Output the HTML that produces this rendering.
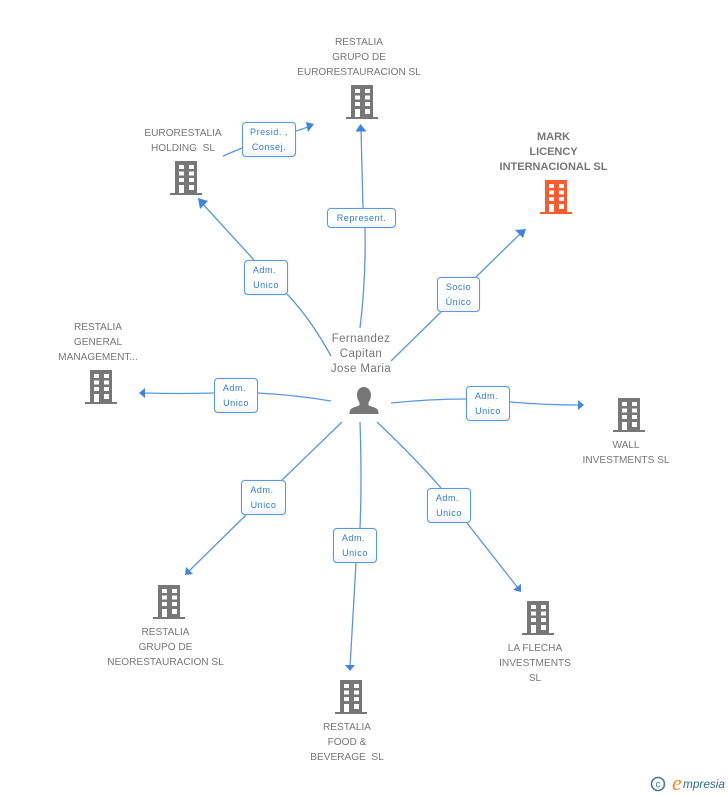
<!DOCTYPE html>
<html><head><meta charset="utf-8">
<style>
html,body{margin:0;padding:0;background:#fff}
#c{position:relative;width:728px;height:795px;overflow:hidden;background:#fff}
svg{position:absolute;left:0;top:0}
.t{position:absolute;transform:translate(-50%,1px);text-align:center;white-space:pre;font:10.1px/15px "Liberation Sans",sans-serif;color:#777}
.b{position:absolute;box-sizing:border-box;border:1.5px solid #5a97e6;border-radius:4px;background:linear-gradient(#fff 70%,#f1f4f9);text-align:center;white-space:pre;font:9px/15px "Liberation Sans",sans-serif;letter-spacing:.55px;color:#2f7be0;padding-top:2px;box-shadow:0 0 1px #a9c8f0}
</style></head><body><div id="c">
<svg width="728" height="795" viewBox="0 0 728 795">
<defs>
<symbol id="bd" viewBox="0 0 32 34" width="32" height="34">
<path fill-rule="evenodd" d="M5 0h22v32h5v2H0v-2h5zM9 4v4h5V4zM19 4v4h5V4zM9 10.500v4h5v-4zM19 10.500v4h5v-4zM9 17v4h5v-4zM19 17v4h5v-4zM9 24v8h5v-8zM19 24v5h5v-5z"/>
</symbol>
</defs>
<g fill="none" stroke="#5a97e6" stroke-width="1.3">
<path d="M223 156L242 148"/><path d="M296 131L308 127"/>
<path d="M361 129Q362 170 363 208"/><path d="M365 228Q366 280 360 328"/>
<path d="M201 202L254 260"/><path d="M287 294Q310 318 331 356"/>
<path d="M476 277L522 232"/><path d="M441 312L391 361"/>
<path d="M143 393Q180 394 214 393"/><path d="M258 393Q295 395 331 401"/>
<path d="M391 403Q430 399 466 399"/><path d="M510 402Q545 405 580 405"/>
<path d="M342 422L282 480"/><path d="M246 515L188 572"/>
<path d="M360 422Q362 480 360 528"/><path d="M356 563L350 667"/>
<path d="M377 422Q415 458 441 488"/><path d="M467 523L518 588"/>
</g>
<g fill="#3f85e4">
<path d="M360.500 124L366.500 131.500L355.500 131.500Z"/>
<path d="M198 198L208 201L200 209Z"/>
<path d="M314 124L306 122L308 132Z"/>
<path d="M526 229L523 238L515 230Z"/>
<path d="M139 393L145 388L145 398Z"/>
<path d="M584 405L578 400L578 410Z"/>
<path d="M185 575L193 574L186 567Z"/>
<path d="M350 671L345 665L355 665Z"/>
<path d="M521 592L513 590L521 584Z"/>
</g>
<path fill="#777" d="M363.500 387c4.500 0 7.500 3.500 7.500 8 0 3-1 5.500-2.500 7.500v2.500c0 1 6 2 8.500 4 1.500 1 1.500 4 1.500 5h-29c0-1 0-4 1.500-5 2.500-2 8.500-3 8.500-4v-2.500c-1.500-2-2.500-4.500-2.500-7.500 0-4.500 2.500-8 6.500-8z"/>
<use href="#bd" x="346" y="85" fill="#777"/>
<use href="#bd" x="170" y="161" fill="#777"/>
<use href="#bd" x="540" y="180" fill="#ff5a2d"/>
<use href="#bd" x="85" y="370" fill="#777"/>
<use href="#bd" x="613" y="398" fill="#777"/>
<use href="#bd" x="522" y="601" fill="#777"/>
<use href="#bd" x="335" y="680" fill="#777"/>
<use href="#bd" x="153" y="585" fill="#777"/>
<circle cx="658" cy="784" r="6.500" fill="none" stroke="#3f7f95" stroke-width="1.600"/>
<text x="658" y="787.500" font-family="Liberation Sans" font-size="10" fill="#3f7f95" text-anchor="middle">c</text>
<text x="672" y="790" font-family="Liberation Serif" font-size="22" font-style="italic" fill="#f58a1f">e</text>
<text x="683" y="788" font-family="Liberation Sans" font-size="11.800" font-style="italic" fill="#2f6f86">mpresia</text>
</svg>

<div class="t" style="left:359px;top:34px">RESTALIA
GRUPO DE
EURORESTAURACION SL</div>
<div class="t" style="left:183px;top:125px">EURORESTALIA
HOLDING  SL</div>
<div class="t" style="left:553.500px;top:129px;font-weight:bold;font-size:11px;color:#777">MARK
LICENCY
INTERNACIONAL SL</div>
<div class="t" style="left:98px;top:319px">RESTALIA
GENERAL
MANAGEMENT...</div>
<div class="t" style="left:361px;top:331px;font-size:11.500px;letter-spacing:.4px">Fernandez
Capitan
Jose Maria</div>
<div class="t" style="left:626px;top:437px">WALL
INVESTMENTS SL</div>
<div class="t" style="left:535px;top:640px">LA FLECHA
INVESTMENTS
SL</div>
<div class="t" style="left:347px;top:719px">RESTALIA
FOOD &amp;
BEVERAGE  SL</div>
<div class="t" style="left:165.500px;top:624px">RESTALIA
GRUPO DE
NEORESTAURACION SL</div>

<div class="b" style="left:242px;top:122px;width:54px;height:35px;padding-top:1.500px">Presid. ,
Consej.</div>
<div class="b" style="left:327px;top:208px;width:69px;height:20px;padding-top:1.500px">Represent.</div>
<div class="b" style="left:244px;top:260px;width:44px;height:35px">Adm.&nbsp;
Unico</div>
<div class="b" style="left:437px;top:277px;width:43px;height:35px">Socio
Único</div>
<div class="b" style="left:214px;top:378px;width:44px;height:35px">Adm.&nbsp;
Unico</div>
<div class="b" style="left:466px;top:386px;width:44px;height:35px">Adm.&nbsp;
Unico</div>
<div class="b" style="left:241px;top:480px;width:45px;height:35px">Adm.&nbsp;
Unico</div>
<div class="b" style="left:333px;top:528px;width:44px;height:35px">Adm.&nbsp;
Unico</div>
<div class="b" style="left:427px;top:488px;width:44px;height:35px">Adm.&nbsp;
Unico</div>
</div></body></html>
